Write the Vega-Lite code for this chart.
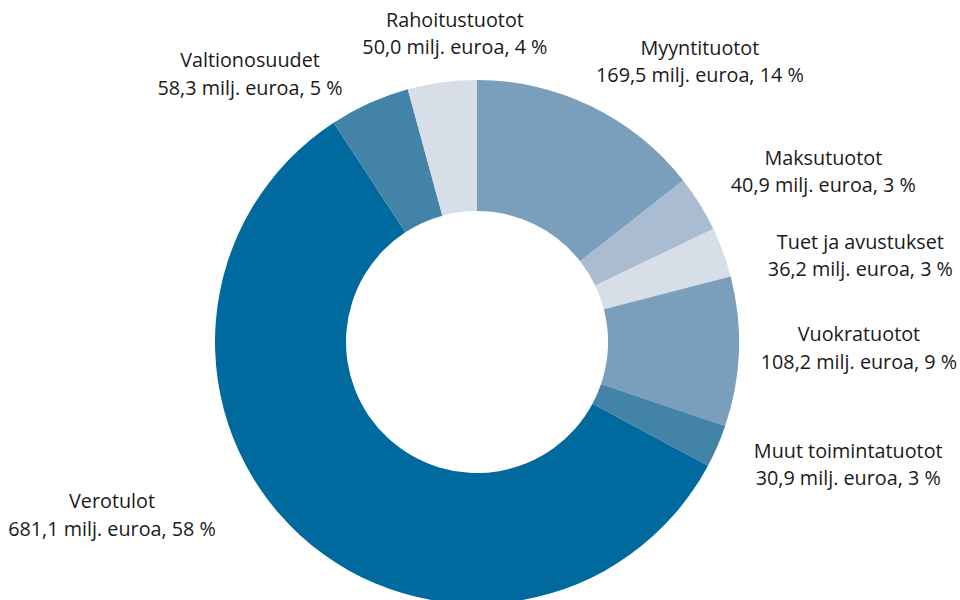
{
  "$schema": "https://vega.github.io/schema/vega-lite/v6.json",
  "width": 954,
  "height": 516,
  "autosize": {"type": "none"},
  "padding": {"top": 84, "left": 0, "right": 6, "bottom": 0},
  "background": "white",
  "config": {"view": {"stroke": null}},
  "data": {
    "values": [
      {"i": 1, "label": "Myyntituotot", "value": 169.5, "text": "Myyntituotot\n169,5 milj. euroa, 14 %"},
      {"i": 2, "label": "Maksutuotot", "value": 40.9, "text": "Maksutuotot\n40,9 milj. euroa, 3 %"},
      {"i": 3, "label": "Tuet ja avustukset", "value": 36.2, "text": "Tuet ja avustukset\n36,2 milj. euroa, 3 %"},
      {"i": 4, "label": "Vuokratuotot", "value": 108.2, "text": "Vuokratuotot\n108,2 milj. euroa, 9 %"},
      {"i": 5, "label": "Muut toimintatuotot", "value": 30.9, "text": "Muut toimintatuotot\n30,9 milj. euroa, 3 %"},
      {"i": 6, "label": "Verotulot", "value": 681.1, "text": "Verotulot\n681,1 milj. euroa, 58 %"},
      {"i": 7, "label": "Valtionosuudet", "value": 58.3, "text": "Valtionosuudet\n58,3 milj. euroa, 5 %"},
      {"i": 8, "label": "Rahoitustuotot", "value": 50.0, "text": "Rahoitustuotot\n50,0 milj. euroa, 4 %"}
    ]
  },
  "encoding": {
    "theta": {"field": "value", "type": "quantitative", "stack": true},
    "order": {"field": "i", "type": "quantitative"}
  },
  "layer": [
    {
      "mark": {"type": "arc", "innerRadius": 131, "outerRadius": 262},
      "encoding": {
        "color": {
          "field": "label",
          "type": "nominal",
          "legend": null,
          "scale": {
            "domain": ["Myyntituotot", "Maksutuotot", "Tuet ja avustukset", "Vuokratuotot", "Muut toimintatuotot", "Verotulot", "Valtionosuudet", "Rahoitustuotot"],
            "range": ["#7a9fbc", "#a9bcd1", "#d8dee8", "#7a9fbc", "#4483a8", "#006a9e", "#4483a8", "#d8dee8"]
          }
        }
      }
    },
    {
      "mark": {
        "type": "text",
        "font": "Open Sans",
        "fontSize": 19.8,
        "lineBreak": "\n",
        "lineHeight": 27.5,
        "align": "center",
        "baseline": "middle",
        "dy": -13,
        "fill": "#1a1a1a",
        "radius": {"expr": "datum.i == 1 ? 358 : datum.i == 2 ? 386 : datum.i == 3 ? 393 : datum.i == 4 ? 382 : datum.i == 5 ? 391 : datum.i == 6 ? 404 : datum.i == 7 ? 351 : 309"},
        "thetaOffset": {"expr": "datum.i == 1 ? 0.2189 : datum.i == 2 ? 0.0979 : datum.i == 3 ? 0.1274 : datum.i == 4 ? -0.0213 : datum.i == 5 ? -0.0895 : datum.i == 6 ? 0.3859 : datum.i == 7 ? -0.2801 : 0.0621"}
      },
      "encoding": {"text": {"field": "text", "type": "nominal"}}
    }
  ]
}
